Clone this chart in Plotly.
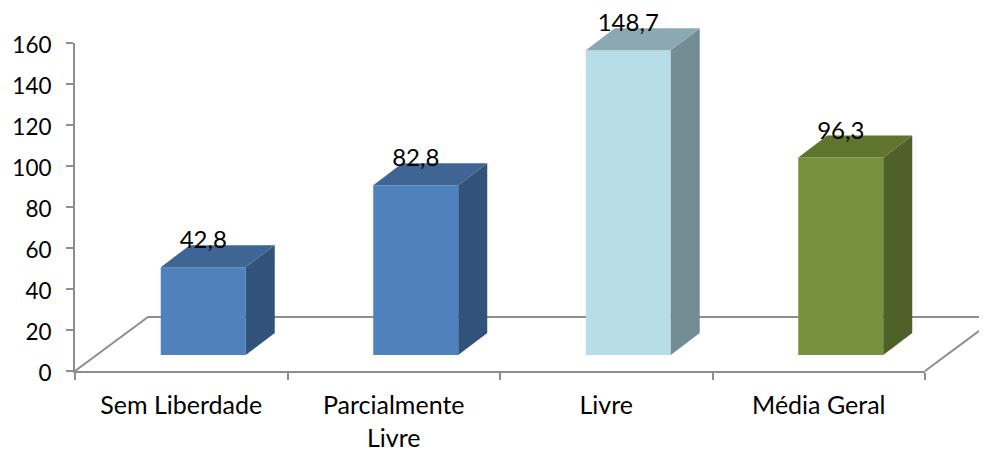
import plotly.graph_objects as go

categories = ["Sem Liberdade", "Parcialmente<br>Livre", "Livre", "Média Geral"]
values = [42.8, 82.8, 148.7, 96.3]
front_colors = ["#4F81BD", "#4F81BD", "#B7DEE8", "#76923C"]
side_colors = ["#31527A", "#31527A", "#748D94", "#4E6128"]
top_colors = ["#3F6594", "#3F6594", "#8CA9B2", "#5F752E"]
y_ticks = [0, 20, 40, 60, 80, 100, 120, 140, 160]

OFF_X, OFF_Y = 8, 8          # page margin around the figure
W, H = 987 - OFF_X, 450 - OFF_Y
L, R, T, B = 75 - OFF_X, 925 - OFF_X, 43 - OFF_Y, 371 - OFF_Y
TOP = 0                      # top of the outer plot area
PH = B - TOP
px_x = (R - L) / 4           # pixels per category
px_y = (B - T) / 160         # pixels per unit
shift = 22 / px_x            # 3D shift of the front faces
bar_w = 85 / px_x
depth_x = 29 / px_x
depth_y = 22 / px_y
floor_y = 16 / px_y          # front faces stand above the axis
label_up = 25 / px_y

GREY = "#8E8E8E"
FONT = "Lato, Carlito, 'Open Sans', sans-serif"
FS = 24
FS_Y = 22.5
FS_CAT = 25

fig = go.Figure()

# invisible trace that carries the category axis
fig.add_trace(go.Scatter(x=categories, y=[0] * 4, mode="markers", marker=dict(opacity=0),
                         showlegend=False, hoverinfo="skip"))

# front faces
xs = [i + shift for i in range(4)]
fig.add_trace(go.Bar(x=xs, y=values, base=[floor_y] * 4, width=bar_w, xaxis="x2", yaxis="y2",
                     marker=dict(color=front_colors, line=dict(width=0)),
                     showlegend=False))

# side and top faces
for x, v, sc, tc in zip(xs, values, side_colors, top_colors):
    x1 = x + bar_w / 2
    x0 = x - bar_w / 2
    y0 = floor_y
    y1 = floor_y + v
    fig.add_trace(go.Scatter(
        x=[x1, x1 + depth_x, x1 + depth_x, x1, x1],
        y=[y0, y0 + depth_y, y1 + depth_y, y1, y0],
        mode="lines", fill="toself", fillcolor=sc, line=dict(width=0),
        xaxis="x2", yaxis="y2", showlegend=False, hoverinfo="skip"))
    fig.add_trace(go.Scatter(
        x=[x0, x1, x1 + depth_x, x0 + depth_x, x0],
        y=[y1, y1, y1 + depth_y, y1 + depth_y, y1],
        mode="lines", fill="toself", fillcolor=tc, line=dict(width=0),
        xaxis="x2", yaxis="y2", showlegend=False, hoverinfo="skip"))

# value labels
fig.add_trace(go.Scatter(
    x=xs, y=[floor_y + v + label_up for v in values],
    text=[f"{v:.1f}".replace(".", ",") for v in values],
    mode="text", textposition="middle center", cliponaxis=False,
    textfont=dict(family=FONT, size=FS, color="#000000"),
    xaxis="x2", yaxis="y2", showlegend=False, hoverinfo="skip"))


def fx(p):
    return (p - OFF_X - L) / (R - L)


def fy(p):
    return (B - (p - OFF_Y)) / PH


# floor outline, behind the bars
fig.add_shape(type="path", xref="paper", yref="paper", layer="below",
              path=f"M {fx(75)} {fy(371)} L {fx(148)} {fy(317)} L {fx(998)} {fy(317)} L {fx(925)} {fy(371)}",
              line=dict(color=GREY, width=2))

fig.update_layout(
    width=W, height=H, margin=dict(l=L, r=W - R, t=TOP, b=H - B),
    paper_bgcolor="white", plot_bgcolor="rgba(0,0,0,0)", showlegend=False,
    font=dict(family=FONT, color="#000000"),
    xaxis=dict(type="category", tickson="boundaries", categoryorder="array", categoryarray=categories,
               showgrid=False, showline=True, linecolor=GREY, linewidth=2, ticks="outside",
               ticklen=7, tickwidth=2, tickcolor=GREY, tickfont=dict(family=FONT, size=FS_CAT),
               ticklabelstandoff=11, zeroline=False, range=[-0.5, 3.5], fixedrange=True, anchor="y",
               automargin=False),
    xaxis2=dict(domain=[0, 1], range=[-0.5, 3.5], visible=False, fixedrange=True, anchor="y2",
                automargin=False),
    yaxis=dict(domain=[0, (B - T) / PH], range=[0, 160], tickvals=y_ticks, showgrid=False, showline=True,
               linecolor=GREY, linewidth=2, ticks="outside", ticklen=7, tickwidth=2, tickcolor=GREY,
               zeroline=False, tickfont=dict(family=FONT, size=FS_Y), ticklabelstandoff=10,
               ticklabelshift=2, fixedrange=True, anchor="x", automargin=False),
    yaxis2=dict(domain=[0, 1], range=[0, PH / px_y], visible=False, fixedrange=True, anchor="x2",
                automargin=False),
)

fig.write_html("out.html", config={"displayModeBar": False})
